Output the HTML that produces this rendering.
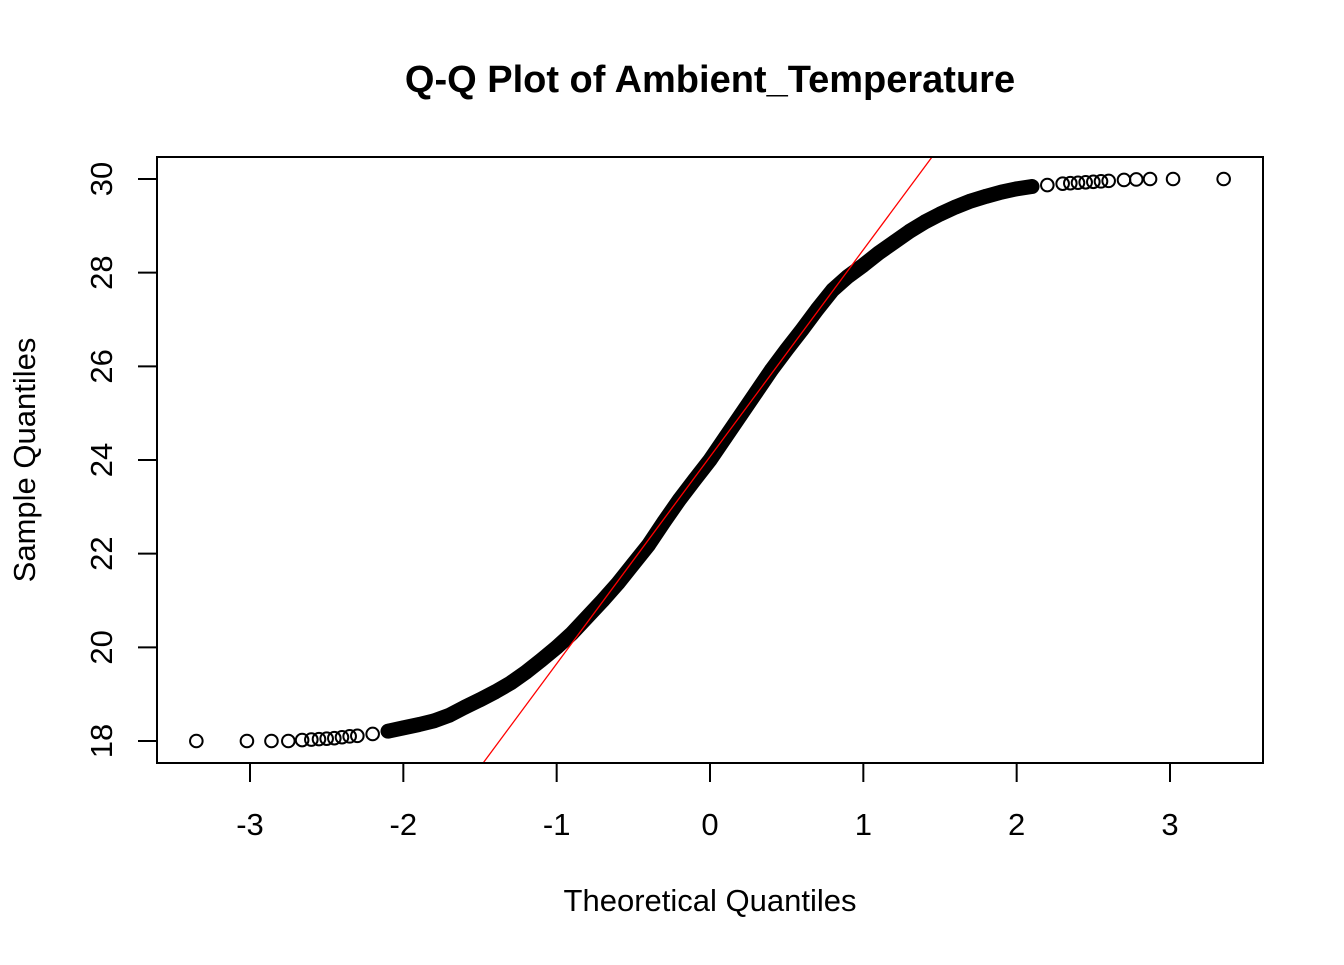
<!DOCTYPE html>
<html><head><meta charset="utf-8"><style>
html,body{margin:0;padding:0;background:#fff;}
svg text{font-family:"Liberation Sans",Arial,sans-serif;}
</style></head><body>
<svg id="chart" width="1344" height="960" xmlns="http://www.w3.org/2000/svg">
<rect width="1344" height="960" fill="#fff"/>
<text x="710" y="92" text-anchor="middle" font-size="38" font-weight="bold">Q-Q Plot of Ambient_Temperature</text>
<text x="710" y="911" text-anchor="middle" font-size="31">Theoretical Quantiles</text>
<text transform="translate(35,460) rotate(-90)" text-anchor="middle" font-size="31">Sample Quantiles</text>
<g id="axes"></g>
<g id="marks"></g>
<rect x="157" y="157" width="1106" height="606" fill="none" stroke="#000" stroke-width="2"/>
</svg>
<script>
const xTicks=[-3,-2,-1,0,1,2,3];
const yTicks=[18,20,22,24,26,28,30];
const theoretical=[-3.35,-3.02,-2.86,-2.75,-2.66,-2.6,-2.55,-2.5,-2.45,-2.4,-2.35,-2.3,-2.2,-2.1,-2.0,-1.9,-1.8,-1.7,-1.6,-1.5,-1.4,-1.3,-1.2,-1.1,-1.0,-0.9,-0.8,-0.7,-0.6,-0.5,-0.4,-0.3,-0.2,-0.1,0,0.1,0.2,0.3,0.4,0.5,0.6,0.7,0.8,0.9,1.0,1.1,1.2,1.3,1.4,1.5,1.6,1.7,1.8,1.9,2.0,2.1,2.2,2.3,2.35,2.4,2.45,2.5,2.55,2.6,2.7,2.78,2.87,3.02,3.35];
const sample=[18,18,18,18,18.02,18.03,18.04,18.05,18.06,18.08,18.1,18.11,18.15,18.21,18.28,18.35,18.43,18.55,18.72,18.88,19.05,19.24,19.47,19.73,20.0,20.3,20.65,21.0,21.37,21.78,22.19,22.68,23.15,23.58,24.0,24.48,24.96,25.44,25.92,26.36,26.78,27.22,27.63,27.92,28.16,28.42,28.65,28.88,29.08,29.25,29.4,29.53,29.63,29.72,29.79,29.84,29.87,29.9,29.91,29.92,29.93,29.94,29.95,29.96,29.98,29.99,30,30,30];
const lineIntercept=24.07, lineSlope=4.42;
const NS="http://www.w3.org/2000/svg";
const X=v=>710+v*153.333, Y=v=>741-(v-18)*46.833;
const axes=document.getElementById('axes'), marks=document.getElementById('marks');
function mk(tag,attrs,parent){const e=document.createElementNS(NS,tag);for(const k in attrs)e.setAttribute(k,attrs[k]);parent.appendChild(e);return e;}
xTicks.forEach(t=>{
  const l=mk('line',{x1:X(t),x2:X(t),y1:763,y2:782,stroke:'#000','stroke-width':2},axes);
  
  
  const tx=mk('text',{x:X(t),y:835,'text-anchor':'middle','font-size':31},axes);tx.textContent=t;
  
  
});
mk('line',{x1:X(-3),x2:X(3),y1:763,y2:763,stroke:'#000','stroke-width':2},axes);
yTicks.forEach(t=>{
  const l=mk('line',{x1:138,x2:157,y1:Y(t),y2:Y(t),stroke:'#000','stroke-width':2},axes);
  
  
  const tx=mk('text',{transform:`translate(112,${Y(t)}) rotate(-90)`,'text-anchor':'middle','font-size':31},axes);tx.textContent=t;
  
  
});
let pts=[];
theoretical.forEach((t,i)=>{if(t>=-2.1&&t<=2.1)pts.push(X(t)+','+Y(sample[i]));});
const band=mk('polyline',{points:pts.join(' '),fill:'none',stroke:'#000','stroke-width':15,'stroke-linejoin':'round','stroke-linecap':'round'},marks);


theoretical.forEach((t,i)=>{
  const c=mk('circle',{cx:X(t),cy:Y(sample[i]),r:6.3,fill:'none',stroke:'#000','stroke-width':2},marks);
  
  
});
const cl=document.createElementNS(NS,'clipPath');cl.id='clip';mk('rect',{x:157,y:157,width:1106,height:606},cl);document.getElementById('chart').appendChild(cl);
const ql=mk('line',{x1:X(-2),y1:Y(lineIntercept-2*lineSlope),x2:X(2),y2:Y(lineIntercept+2*lineSlope),stroke:'#f00','stroke-width':1.3,'clip-path':'url(#clip)'},marks);


</script>
</body></html>
